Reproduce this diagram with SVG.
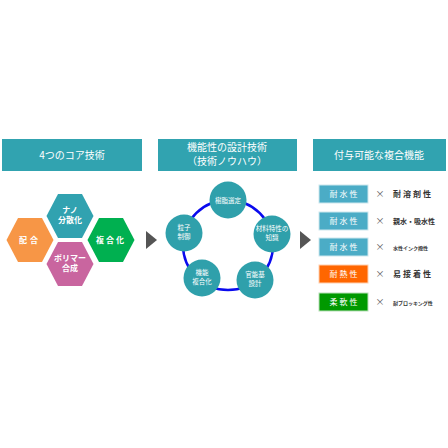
<svg xmlns="http://www.w3.org/2000/svg" width="448" height="448" viewBox="0 0 448 448">
<defs>
<style>
text{font-family:"Noto Sans CJK JP","Noto Sans",sans-serif;}
.hdr{fill:#31a3b0;}
.ht{fill:#fff;font-size:10px;text-anchor:middle;}
.hx{font-size:8px;fill:#fff;text-anchor:middle;font-weight:bold;}
.cc{fill:#2fa0ab;}
.ct{font-size:6.5px;fill:#fff;text-anchor:middle;}
.bt{font-size:8px;fill:#fff;text-anchor:middle;letter-spacing:2px;}
.x{font-size:9px;fill:#555;text-anchor:middle;}
.rt{fill:#333;font-weight:bold;}
.arr{fill:#555;}
</style>
</defs>
<rect width="448" height="448" fill="#fff"/>
<g id="header-core"><rect class="hdr" x="2" y="139" width="140" height="32"/><text class="ht" x="72" y="159">4つのコア技術</text></g>
<g id="header-design"><rect class="hdr" x="158" y="139" width="139" height="32"/><text class="ht" x="227" y="151" font-size="9.5">機能性の設計技術</text><text class="ht" x="227" y="165" font-size="9.5">（技術ノウハウ）</text></g>
<g id="header-func"><rect class="hdr" x="313" y="139" width="133" height="32"/><text class="ht" x="379" y="159">付与可能な複合機能</text></g>

<g id="hex-haigou"><polygon points="6.5,240 18,218 42,218 53.5,240 42,262 18,262" fill="#f79646"/><text class="hx" x="30" y="243" letter-spacing="3">配合</text></g>
<g id="hex-nano"><polygon points="46.5,216 58,194 82,194 93.5,216 82,238 58,238" fill="#31a2b0"/><text class="hx" x="70" y="213">ナノ</text><text class="hx" x="70" y="223">分散化</text></g>
<g id="hex-fukugou"><polygon points="87.5,240 99,218 123,218 134.5,240 123,262 99,262" fill="#00b050"/><text class="hx" x="111" y="243" letter-spacing="2">複合化</text></g>
<g id="hex-polymer"><polygon points="46.5,264 58,242 82,242 93.5,264 82,286 58,286" fill="#c9659f"/><text class="hx" x="70" y="261">ポリマー</text><text class="hx" x="70" y="271">合成</text></g>

<g id="connectors">
<polygon class="arr" points="146,231 157,240 146,249"/>
<polygon class="arr" points="300,231 311,240 300,249"/>
<circle cx="228" cy="245" r="45" fill="none" stroke="#0a0aee" stroke-width="2.5"/>
</g>

<g id="c-jushi"><circle class="cc" cx="228" cy="200" r="18.5"/><text class="ct" x="228" y="203">樹脂選定</text></g>
<g id="c-zairyo"><circle class="cc" cx="272" cy="234" r="18.5"/><text class="ct" x="272" y="231">材料特性の</text><text class="ct" x="272" y="240">知識</text></g>
<g id="c-kannou"><circle class="cc" cx="255" cy="280" r="18.5"/><text class="ct" x="255" y="277">官能基</text><text class="ct" x="255" y="286">設計</text></g>
<g id="c-kinou"><circle class="cc" cx="202" cy="278" r="18.5"/><text class="ct" x="202" y="275">機能</text><text class="ct" x="202" y="284">複合化</text></g>
<g id="c-ryushi"><circle class="cc" cx="184" cy="233" r="18.5"/><text class="ct" x="184" y="230">粒子</text><text class="ct" x="184" y="239">制御</text></g>

<g id="row1"><rect x="319" y="185" width="49" height="18" fill="#4bacc6" stroke="#cde7ee" stroke-width="1"/><text class="bt" x="344.5" y="197">耐水性</text><text class="x" x="380" y="197">×</text><text class="rt" x="393" y="197" font-size="8" letter-spacing="2">耐溶剤性</text></g>
<g id="row2"><rect x="319" y="212" width="49" height="18" fill="#4bacc6" stroke="#cde7ee" stroke-width="1"/><text class="bt" x="344.5" y="224">耐水性</text><text class="x" x="380" y="224">×</text><text class="rt" x="393" y="224" font-size="7">親水・吸水性</text></g>
<g id="row3"><rect x="319" y="238" width="49" height="18" fill="#4bacc6" stroke="#cde7ee" stroke-width="1"/><text class="bt" x="344.5" y="250">耐水性</text><text class="x" x="380" y="250">×</text><text class="rt" x="393" y="250" font-size="5">水性インク撥性</text></g>
<g id="row4"><rect x="319" y="265" width="49" height="18" fill="#ff6600" stroke="#ffd0b0" stroke-width="1"/><text class="bt" x="344.5" y="277">耐熱性</text><text class="x" x="380" y="277">×</text><text class="rt" x="393" y="277" font-size="8" letter-spacing="2">易接着性</text></g>
<g id="row5"><rect x="319" y="293" width="49" height="18" fill="#009900" stroke="#b8e0b8" stroke-width="1"/><text class="bt" x="344.5" y="305">柔軟性</text><text class="x" x="380" y="305">×</text><text class="rt" x="393" y="305" font-size="5">耐ブロッキング性</text></g>
</svg>
